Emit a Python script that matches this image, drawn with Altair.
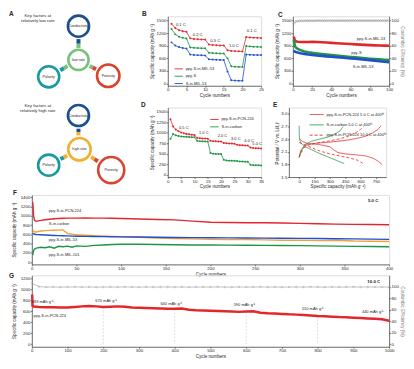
import altair as alt
import pandas as pd

FONT = "Liberation Sans"
RED = "#e3262b"
GREEN = "#1f9445"
BLUE = "#2150cc"
ORANGE = "#f2a23c"
GRAY = "#9c9c9c"
INK = "#262626"
LFS = 4.4   # tick label font size
TFS = 4.6   # axis title font size

# ---------------- Panel A (diagram) ----------------
a_circle_label = ["Conductivity", "low rate", "Polarity", "Porosity",
                  "Conductivity", "high rate", "Polarity", "Porosity"]
a_circle_x = [78, 78, 48, 108, 78, 79, 48, 111]
a_circle_y = [20, 54, 71, 70, 110, 144, 160, 165]
a_circle_size = [452, 415, 452, 515, 452, 515, 452, 690]
a_circle_color = ["#1d4f8f", "#79c27b", "#1a9aa0", "#d9442e",
                  "#1d4f8f", "#f1b02f", "#1a9aa0", "#d9442e"]
a_link_x = [78, 78, 67, 63.3, 89.2, 92.4, 78, 78, 66.6, 63.2, 90.7, 94.2]
a_link_y = [33, 37.7, 60.2, 62.3, 60, 61.7, 123.3, 126.7, 150.4, 152.2, 151.7, 154]
a_link_x2 = [78, 78, 63.3, 59.6, 92.4, 95.7, 78, 78, 63.2, 59.8, 94.2, 97.6]
a_link_y2 = [37.7, 42, 62.3, 64.4, 61.7, 63.4, 126.7, 130, 152.2, 153.9, 154, 156.2]
a_link_color = ["#1d4f8f", "#79c27b", "#79c27b", "#1a9aa0", "#79c27b", "#d9442e",
                "#1d4f8f", "#f1b02f", "#f1b02f", "#1a9aa0", "#f1b02f", "#d9442e"]
a_head_text = ["Key factors at", "relatively low rate", "Key factors at", "relatively high rate"]
a_head_x = [37, 37, 37, 37]
a_head_y = [10, 15, 100, 105]

# ---------------- Panel B ----------------
b_cycle = list(range(1, 26))
b_names = ["ppy-S-in-MIL-53", "ppy-S", "S-in-MIL-53"]
b_ppy_s_mil53 = [1420, 1320, 1270, 1245, 1230, 1075, 1062, 1055, 1050, 1046, 930, 918, 912, 908, 905,
                 795, 778, 772, 768, 765, 1105, 1098, 1092, 1088, 1085]
b_ppy_s = [1300, 1170, 1115, 1090, 1072, 860, 850, 845, 841, 838, 735, 725, 720, 716, 713,
           600, 415, 402, 398, 395, 895, 885, 878, 874, 870]
b_s_mil53 = [980, 905, 868, 848, 832, 690, 682, 677, 673, 670, 578, 571, 567, 564, 561,
             290, 82, 72, 70, 68, 690, 686, 682, 680, 678]
b_rate_text = ["0.1 C", "0.2 C", "0.5 C", "1.0 C", "0.1 C"]
b_rate_x = [3.5, 8, 12.7, 17.7, 22.5]
b_rate_y = [1400, 1160, 1020, 900, 1240]

# ---------------- Panel C ----------------
c_cycle = [1, 2, 3, 5, 8, 12, 16, 20, 25, 30, 35, 40, 45, 50, 55, 60, 65, 70, 75, 80, 85, 90, 95, 100]
c_names = ["ppy-S-in-MIL-53", "ppy-S", "S-in-MIL-53"]
c_ppy_s_mil53 = [1120, 1030, 1005, 995, 990, 988, 990, 992, 988, 982, 975, 968, 961, 954, 947, 940,
                 933, 926, 920, 914, 909, 905, 902, 900]
c_ppy_s = [1050, 900, 860, 825, 795, 765, 745, 730, 715, 702, 690, 680, 668, 656, 645, 634,
           623, 613, 603, 593, 584, 576, 568, 560]
c_s_mil53 = [790, 760, 750, 738, 722, 705, 692, 680, 668, 657, 647, 637, 628, 619, 609, 599,
             589, 579, 569, 558, 546, 533, 520, 508]
c_ce_cycle = list(range(1, 100, 2))
c_ce = [95.2, 98.4, 99.1, 99.3, 99.5, 99.4, 99.6, 99.5, 99.7, 99.6,
        99.5, 99.7, 99.6, 99.8, 99.6, 99.7, 99.5, 99.7, 99.8, 99.6,
        99.7, 99.6, 99.8, 99.7, 99.6, 99.8, 99.7, 99.6, 99.8, 99.7,
        99.7, 99.8, 99.6, 99.7, 99.8, 99.7, 99.6, 99.8, 99.7, 99.8,
        99.7, 99.6, 99.8, 99.7, 99.8, 99.7, 99.8, 99.6, 99.7, 99.8]
c_lab_text = ["ppy-S-in-MIL-53", "ppy-S", "S-in-MIL-53"]
c_lab_x = [96, 66, 73]
c_lab_y = [1070, 730, 396]
c_lab_align = ["right", "center", "center"]

# ---------------- Panel D ----------------
d_cycle = list(range(1, 36))
d_names = ["ppy-S-in-PCN-224", "S-in-carbon"]
d_ppy_s_pcn = [1320, 1150, 1080, 1040, 1010, 990, 975, 965, 955, 950,
               880, 872, 868, 865, 862, 810, 800, 798, 795, 792,
               760, 752, 748, 745, 742, 715, 708, 705, 700, 698,
               650, 640, 635, 632, 630]
d_s_carbon = [860, 970, 940, 925, 915, 910, 905, 900, 898, 895,
              810, 800, 798, 796, 794, 520, 505, 500, 498, 495,
              360, 345, 340, 338, 335, 330, 320, 318, 315, 312,
              240, 232, 230, 228, 226]
d_rate_text = ["0.5 C", "1.0 C", "2.0 C", "3.0 C", "4.0 C", "5.0 C"]
d_rate_x = [6, 13.5, 20.5, 25.5, 30.5, 33.5]
d_rate_y = [1110, 990, 925, 860, 815, 725]

# ---------------- Panel E ----------------
e_names = ["ppy-S-in-PCN-224 5.0 C at 400ᵗʰ", "S-in-carbon 5.0 C at 400ᵗʰ",
           "ppy-S-in-PCN-224 10.0 C at 400ᵗʰ"]
e_r5_dis_cap = [0, 30, 80, 200, 300, 340, 380, 450, 550, 650, 720, 770, 810]
e_r5_dis_v = [2.42, 2.35, 2.30, 2.27, 2.22, 2.14, 2.08, 2.05, 2.03, 2.00, 1.95, 1.88, 1.80]
e_r5_chg_cap = [0, 20, 60, 150, 300, 450, 550, 650, 720, 770, 800]
e_r5_chg_v = [1.98, 2.15, 2.26, 2.30, 2.33, 2.37, 2.41, 2.47, 2.55, 2.63, 2.72]
e_c5_dis_cap = [0, 3, 20, 60, 120, 200, 280, 350, 400, 440]
e_c5_dis_v = [2.72, 2.40, 2.30, 2.22, 2.15, 2.06, 1.98, 1.91, 1.86, 1.82]
e_c5_chg_cap = [0, 20, 60, 120, 200, 280, 350, 400, 430]
e_c5_chg_v = [1.96, 2.12, 2.28, 2.35, 2.40, 2.45, 2.52, 2.60, 2.70]
e_r10_dis_cap = [0, 50, 120, 200, 300, 400, 500, 570, 620]
e_r10_dis_v = [2.32, 2.27, 2.20, 2.12, 2.05, 2.00, 1.95, 1.90, 1.83]
e_r10_chg_cap = [0, 40, 100, 200, 300, 400, 480, 550, 600, 630]
e_r10_chg_v = [1.97, 2.18, 2.27, 2.32, 2.36, 2.41, 2.47, 2.55, 2.63, 2.70]

# ---------------- Panel F ----------------
f_cycle = [1, 2, 3, 5, 10, 15, 20, 25, 30, 35, 40, 45, 50, 60, 70, 80, 90, 100, 120, 140, 160, 180,
           200, 220, 240, 260, 280, 300, 320, 340, 360, 380, 400]
f_names = ["ppy-S-in-PCN-224", "S-in-carbon", "ppy-S-in-MIL-53", "ppy-S-in-MIL-101"]
f_pcn = [1300, 1000, 900, 880, 900, 915, 925, 935, 940, 945, 948, 950, 950, 952, 950, 948, 945, 940,
         930, 920, 910, 885, 860, 855, 850, 848, 845, 835, 828, 820, 815, 812, 805]
f_carbon = [700, 670, 650, 650, 670, 680, 685, 688, 690, 692, 615, 600, 590, 580, 570, 565, 555, 548,
            535, 520, 510, 500, 490, 485, 488, 480, 470, 475, 462, 470, 455, 450, 445]
f_mil53 = [620, 610, 600, 595, 590, 585, 580, 575, 570, 568, 565, 560, 558, 555, 552, 550, 548, 545,
           540, 535, 530, 528, 525, 522, 520, 518, 515, 512, 508, 505, 500, 495, 490]
f_mil101 = [150, 250, 280, 300, 320, 310, 330, 300, 340, 330, 345, 320, 350, 340, 360, 370, 380, 385,
            385, 380, 375, 370, 368, 365, 362, 360, 358, 355, 350, 345, 340, 335, 330]
f_lab_text = ["ppy-S-in-PCN-224", "S-in-carbon", "ppy-S-in-MIL-53", "ppy-S-in-MIL-101"]
f_lab_x = [19, 19, 19, 19]
f_lab_y = [1100, 815, 485, 156]

# ---------------- Panel G ----------------
g_cycle = [1, 2, 5, 20, 40, 60, 80, 100, 120, 140, 160, 180, 200, 220, 240, 260, 280, 300, 320, 340,
           360, 380, 400, 420, 440, 460, 480, 500, 520, 540, 560, 580, 600, 620, 640, 660, 680, 700,
           720, 740, 760, 780, 800, 820, 840, 860, 880, 900, 920, 940, 960, 980, 1000]
g_cap = [900, 700, 683, 675, 670, 668, 665, 665, 675, 685, 690, 685, 672, 680, 685, 678, 665, 660, 655,
         650, 645, 642, 640, 645, 625, 615, 610, 605, 600, 597, 590, 585, 592, 595, 570, 560, 555, 548,
         540, 535, 528, 520, 510, 505, 498, 490, 485, 480, 472, 465, 458, 450, 425]
g_ce_cycle = [1, 20, 40, 60, 80, 100, 120, 140, 160, 180, 200, 220, 240, 260, 280, 300, 320, 340, 360,
              380, 400, 420, 440, 460, 480, 500, 520, 540, 560, 580, 600, 620, 640, 660, 680, 700, 720,
              740, 760, 780, 800, 820, 840, 860, 880, 900, 920, 940, 960, 980, 1000]
g_ce = [106, 100.4, 99.6, 99.8, 99.5, 99.7, 99.9, 99.6, 99.8, 99.5, 99.7, 99.8, 99.6, 99.9, 99.7,
        99.5, 99.8, 99.6, 99.7, 99.9, 99.6, 99.8, 99.5, 99.7, 99.8, 99.6, 99.9, 99.7, 99.5, 99.8,
        99.6, 99.7, 99.9, 99.6, 99.8, 99.5, 99.7, 99.8, 99.6, 99.9, 99.7, 99.5, 99.8, 99.6, 99.7,
        99.9, 99.6, 99.8, 99.7, 99.6, 99.8]
g_mark_cycle = [200, 400, 600, 800]
g_mark_cap = [670, 640, 590, 510]
g_lab_text = ["683 mAh g⁻¹", "670 mAh g⁻¹", "640 mAh g⁻¹", "590 mAh g⁻¹", "510 mAh g⁻¹", "440 mAh g⁻¹",
              "ppy-S-in-PCN-224"]
g_lab_x = [30, 208, 390, 595, 786, 954, 5]
g_lab_y = [760, 785, 735, 703, 630, 585, 515]
g_lab_align = ["center", "center", "center", "center", "center", "center", "left"]


# ---------------- helpers ----------------
def ax(title, values, **kw):
    d = dict(title=title, values=values, labelFont=FONT, titleFont=FONT, labelFontSize=LFS,
             titleFontSize=TFS, titleFontWeight="normal", labelColor=INK, titleColor=INK,
             domainColor=INK, tickColor=INK, domainWidth=0.6, tickWidth=0.6, tickSize=1.5,
             labelPadding=0.5, titlePadding=1.5, grid=False, labelFlush=False, labelOverlap=False)
    d.update(kw)
    return alt.Axis(**d)


def letter(t, dx, dy=0):
    return alt.Chart(pd.DataFrame({"label": [t]})).mark_text(
        font=FONT, fontSize=6.5, fontWeight="bold", color=INK, align="left", baseline="bottom"
    ).encode(text="label:N", x=alt.value(dx), y=alt.value(dy))


def legend(x, y, sym=60, **kw):
    d = dict(orient="none", legendX=x, legendY=y, title=None, symbolType="stroke",
             symbolSize=sym, symbolStrokeWidth=0.9, labelFont=FONT, labelFontSize=4.0,
             labelColor=INK, rowPadding=0.4, padding=0, labelOffset=2, labelLimit=300)
    d.update(kw)
    return alt.Legend(**d)


def long_df(xs, series_lists, names, xname="cycle", yname="cap"):
    frames = []
    for vals, n in zip(series_lists, names):
        frames.append(pd.DataFrame({xname: xs, yname: vals, "series": n}))
    return pd.concat(frames, ignore_index=True)


def txt_df(xs, ys, labels, xname="cycle", yname="cap"):
    return pd.DataFrame({xname: xs, yname: ys, "label": labels})


PW_H = 70  # height of panels B-E

# ---------------- A ----------------
dfA_c = pd.DataFrame({"x": a_circle_x, "y": a_circle_y, "s": a_circle_size, "c": a_circle_color,
                      "label": a_circle_label})
dfA_l = pd.DataFrame({"x": a_link_x, "y": a_link_y, "x2": a_link_x2, "y2": a_link_y2, "c": a_link_color})
dfA_h = pd.DataFrame({"x": a_head_x, "y": a_head_y, "label": a_head_text})
xA = alt.X("x:Q", scale=alt.Scale(domain=[31, 123], nice=False), axis=None)
yA = alt.Y("y:Q", scale=alt.Scale(domain=[10, 180], nice=False, reverse=True), axis=None)
A_links = alt.Chart(dfA_l).mark_rule(strokeWidth=4).encode(
    x=xA, y=yA, x2="x2:Q", y2="y2:Q", color=alt.Color("c:N", scale=None))
A_circ = alt.Chart(dfA_c).mark_point(shape="circle", filled=False, strokeWidth=2.6, opacity=1).encode(
    x=xA, y=yA, size=alt.Size("s:Q", scale=None), color=alt.Color("c:N", scale=None))
A_ctext = alt.Chart(dfA_c).mark_text(font=FONT, fontSize=3.7, color=INK).encode(x=xA, y=yA, text="label:N")
A_head = alt.Chart(dfA_h).mark_text(font=FONT, fontSize=4.4, color=INK).encode(x=xA, y=yA, text="label:N")
A = alt.layer(A_links, A_circ, A_ctext, A_head, letter("A", -23, 1)).properties(
    width=92, height=170, view=alt.ViewBackground(stroke="transparent"))

# ---------------- B ----------------
dfB = long_df(b_cycle, [b_ppy_s_mil53, b_ppy_s, b_s_mil53], b_names)
xB = alt.X("cycle:Q", scale=alt.Scale(domain=[0, 25], nice=False),
           axis=ax("Cycle numbers", [0, 5, 10, 15, 20, 25], format="d"))
yB = alt.Y("cap:Q", scale=alt.Scale(domain=[-50, 1600], nice=False),
           axis=ax("Specific capacity (mAh g⁻¹)", [0, 300, 600, 900, 1200, 1500], format="d"))
B_lines = alt.Chart(dfB).mark_line(strokeWidth=0.8, point=alt.OverlayMarkDef(filled=True, size=4)).encode(
    x=xB, y=yB, color=alt.Color("series:N", scale=alt.Scale(domain=b_names, range=[RED, GREEN, BLUE]),
                                legend=legend(6, 48, 70)))
B_text = alt.Chart(txt_df(b_rate_x, b_rate_y, b_rate_text)).mark_text(font=FONT, fontSize=4.2, color=INK).encode(
    x=xB, y=yB, text="label:N")
B = alt.layer(B_lines, B_text, letter("B", -26, 1)).properties(width=94, height=PW_H)

# ---------------- C ----------------
dfC = long_df(c_cycle, [c_ppy_s_mil53, c_ppy_s, c_s_mil53], c_names)
dfCE = pd.DataFrame({"cycle": c_ce_cycle, "ce": c_ce})
dfCt = txt_df(c_lab_x, c_lab_y, c_lab_text)
dfCt["align"] = c_lab_align
xC = alt.X("cycle:Q", scale=alt.Scale(domain=[0, 100], nice=False),
           axis=ax("Cycle numbers", [0, 20, 40, 60, 80, 100], format="d"))
yC = alt.Y("cap:Q", scale=alt.Scale(domain=[-50, 1600], nice=False),
           axis=ax("Specific capacity (mAh g⁻¹)", [0, 300, 600, 900, 1200, 1500], format="d"))
yCE = alt.Y("ce:Q", scale=alt.Scale(domain=[-50 / 15, 1600 / 15], nice=False),
            axis=ax("Coulombic Efficiency (%)", [0, 20, 40, 60, 80, 100], orient="right",
                    titleColor="#777777", format="d"))
C_lines = alt.Chart(dfC).mark_line(strokeWidth=2.6).encode(
    x=xC, y=yC, color=alt.Color("series:N", scale=alt.Scale(domain=c_names, range=[RED, GREEN, BLUE]),
                                legend=None))
C_t1 = alt.Chart(dfCt[dfCt["align"] == "right"]).mark_text(font=FONT, fontSize=4.0, color=INK, align="right").encode(
    x=xC, y=yC, text="label:N")
C_t2 = alt.Chart(dfCt[dfCt["align"] == "center"]).mark_text(font=FONT, fontSize=4.0, color=INK).encode(
    x=xC, y=yC, text="label:N")
C_ce = alt.Chart(dfCE).mark_line(color=GRAY, strokeWidth=0.6,
                                 point=alt.OverlayMarkDef(filled=False, size=4, color=GRAY, strokeWidth=0.5)).encode(
    x=xC, y=yCE)
C = alt.layer(alt.layer(C_lines, C_t1, C_t2, letter("C", -15, 2)), C_ce).resolve_scale(y="independent").properties(
    width=97, height=PW_H)

# ---------------- D ----------------
dfD = long_df(d_cycle, [d_ppy_s_pcn, d_s_carbon], d_names)
xD = alt.X("cycle:Q", scale=alt.Scale(domain=[0, 35], nice=False),
           axis=ax("Cycle numbers", [0, 5, 10, 15, 20, 25, 30, 35], format="d"))
yD = alt.Y("cap:Q", scale=alt.Scale(domain=[-50, 1600], nice=False),
           axis=ax("Specific capacity (mAh g⁻¹)", [0, 250, 500, 750, 1000, 1250, 1500], format="d"))
D_lines = alt.Chart(dfD).mark_line(strokeWidth=0.8, point=alt.OverlayMarkDef(filled=True, size=4)).encode(
    x=xD, y=yD, color=alt.Color("series:N", scale=alt.Scale(domain=d_names, range=[RED, GREEN]),
                                legend=legend(42, 7, 70)))
D_text = alt.Chart(txt_df(d_rate_x, d_rate_y, d_rate_text)).mark_text(font=FONT, fontSize=4.0, color=INK).encode(
    x=xD, y=yD, text="label:N")
D = alt.layer(D_lines, D_text, letter("D", -27, 0)).properties(width=94, height=PW_H)

# ---------------- E ----------------
e_parts = [(e_names[0], "d", e_r5_dis_cap, e_r5_dis_v), (e_names[0], "c", e_r5_chg_cap, e_r5_chg_v),
           (e_names[1], "d", e_c5_dis_cap, e_c5_dis_v), (e_names[1], "c", e_c5_chg_cap, e_c5_chg_v),
           (e_names[2], "d", e_r10_dis_cap, e_r10_dis_v), (e_names[2], "c", e_r10_chg_cap, e_r10_chg_v)]
dfE = pd.concat([pd.DataFrame({"capx": cx, "volt": vv, "series": n, "branch": n + b,
                               "idx": list(range(len(cx)))}) for n, b, cx, vv in e_parts],
                ignore_index=True)
xE = alt.X("capx:Q", scale=alt.Scale(domain=[-100, 850], nice=False),
           axis=ax("Specific capacity (mAh g⁻¹)", [0, 150, 300, 450, 600, 750], format="d"))
yE = alt.Y("volt:Q", scale=alt.Scale(domain=[1.5, 3.15], nice=False),
           axis=ax("Potential / V vs. Li/Li⁺", [1.5, 1.8, 2.1, 2.4, 2.7, 3.0], format=".1f"))
legE = legend(20, -1, 200)
E_lines = alt.Chart(dfE).mark_line(strokeWidth=0.8).encode(
    x=xE, y=yE, detail="branch:N", order="idx:Q",
    color=alt.Color("series:N", scale=alt.Scale(domain=e_names, range=[RED, GREEN, RED]), legend=legE),
    strokeDash=alt.StrokeDash("series:N", scale=alt.Scale(domain=e_names, range=[[1, 0], [1, 0], [3, 2]]),
                              legend=legE),
)
E = alt.layer(E_lines, letter("E", -16, 0)).properties(width=98, height=PW_H)

# ---------------- F ----------------
dfF = long_df(f_cycle, [f_pcn, f_carbon, f_mil53, f_mil101], f_names)
xF = alt.X("cycle:Q", scale=alt.Scale(domain=[0, 400], nice=False),
           axis=ax("Cycle numbers", [0, 50, 100, 150, 200, 250, 300, 350, 400], format="d"))
yF = alt.Y("cap:Q", scale=alt.Scale(domain=[-50, 1450], nice=False),
           axis=ax("Specific capacity (mAh g⁻¹)", [0, 200, 400, 600, 800, 1000, 1200, 1400],
                   format="d", titlePadding=4))
F_lines = alt.Chart(dfF).mark_line(strokeWidth=1.4).encode(
    x=xF, y=yF, color=alt.Color("series:N", scale=alt.Scale(domain=f_names, range=[RED, ORANGE, BLUE, GREEN]),
                                legend=None))
F_text = alt.Chart(txt_df(f_lab_x, f_lab_y, f_lab_text)).mark_text(
    font=FONT, fontSize=4.0, color=INK, align="left").encode(x=xF, y=yF, text="label:N")
F_rate = alt.Chart(txt_df([388], [1320], ["5.0 C"])).mark_text(
    font=FONT, fontSize=4.4, fontWeight="bold", color=INK, align="right").encode(x=xF, y=yF, text="label:N")
F = alt.layer(F_lines, F_text, F_rate, letter("F", -19, 1)).properties(width=360, height=70)

# ---------------- G ----------------
dfG = pd.DataFrame({"cycle": g_cycle, "cap": g_cap})
dfGce = pd.DataFrame({"cycle": g_ce_cycle, "ce": g_ce})
dfGm = pd.DataFrame({"cycle": g_mark_cycle, "cap": g_mark_cap, "base": [0] * len(g_mark_cycle)})
dfGt = txt_df(g_lab_x, g_lab_y, g_lab_text)
dfGt["align"] = g_lab_align
xG = alt.X("cycle:Q", scale=alt.Scale(domain=[0, 1000], nice=False),
           axis=ax("Cycle numbers", [0, 100, 200, 300, 400, 500, 600, 700, 800, 900, 1000], format="d"))
yG = alt.Y("cap:Q", scale=alt.Scale(domain=[-50, 1250], nice=False),
           axis=ax("Specific capacity (mAh g⁻¹)", [0, 200, 400, 600, 800, 1000, 1200],
                   format="d", titlePadding=4))
yGce = alt.Y("ce:Q", scale=alt.Scale(domain=[-50 / 10.4, 1250 / 10.4], nice=False),
             axis=ax("Coulombic Efficiency (%)", [0, 20, 40, 60, 80, 100], orient="right",
                     titleColor="#777777", format="d"))
G_marks = alt.Chart(dfGm).mark_rule(color="#c8c8c8", strokeWidth=0.6, strokeDash=[2, 1.5]).encode(
    x=xG, y=yG, y2="base:Q")
G_line = alt.Chart(dfG).mark_line(color=RED, strokeWidth=2.5).encode(x=xG, y=yG)
G_t1 = alt.Chart(dfGt[dfGt["align"] == "center"]).mark_text(font=FONT, fontSize=4.0, color=INK).encode(
    x=xG, y=yG, text="label:N")
G_t2 = alt.Chart(dfGt[dfGt["align"] == "left"]).mark_text(font=FONT, fontSize=4.0, color=INK, align="left").encode(
    x=xG, y=yG, text="label:N")
G_rate = alt.Chart(txt_df([975], [1130], ["10.0 C"])).mark_text(
    font=FONT, fontSize=4.4, fontWeight="bold", color=INK, align="right").encode(x=xG, y=yG, text="label:N")
G_ce = alt.Chart(dfGce).mark_line(color=GRAY, strokeWidth=0.6,
                                  point=alt.OverlayMarkDef(filled=False, size=3, color=GRAY, strokeWidth=0.4)).encode(
    x=xG, y=yGce)
G = alt.layer(alt.layer(G_marks, G_line, G_t1, G_t2, G_rate, letter("G", -23, 4)), G_ce).resolve_scale(
    y="independent").properties(width=360, height=72)


# ---------------- layout ----------------
# With bounds="flush", a nested concat counts as zero size, so the spacing value is the offset.
def indep(c):
    return c.resolve_scale(x="independent", y="independent", color="independent",
                           strokeDash="independent").resolve_legend(color="independent",
                                                                    strokeDash="independent")


BC = indep(alt.hconcat(B, C, spacing=32, bounds="flush"))
DE = indep(alt.hconcat(D, E, spacing=28, bounds="flush"))
right = indep(alt.vconcat(BC, DE, spacing=92, bounds="flush"))
top = indep(alt.hconcat(A, right, spacing=45, bounds="flush"))
FG = indep(alt.vconcat(F, G, spacing=11, bounds="flush"))
chart = indep(alt.vconcat(top, FG, spacing=180, bounds="flush")).properties(padding=0).configure_view(
    stroke=INK, strokeWidth=0.6).configure(font=FONT)

chart.save("out.html", embed_options={"renderer": "svg", "actions": False})
